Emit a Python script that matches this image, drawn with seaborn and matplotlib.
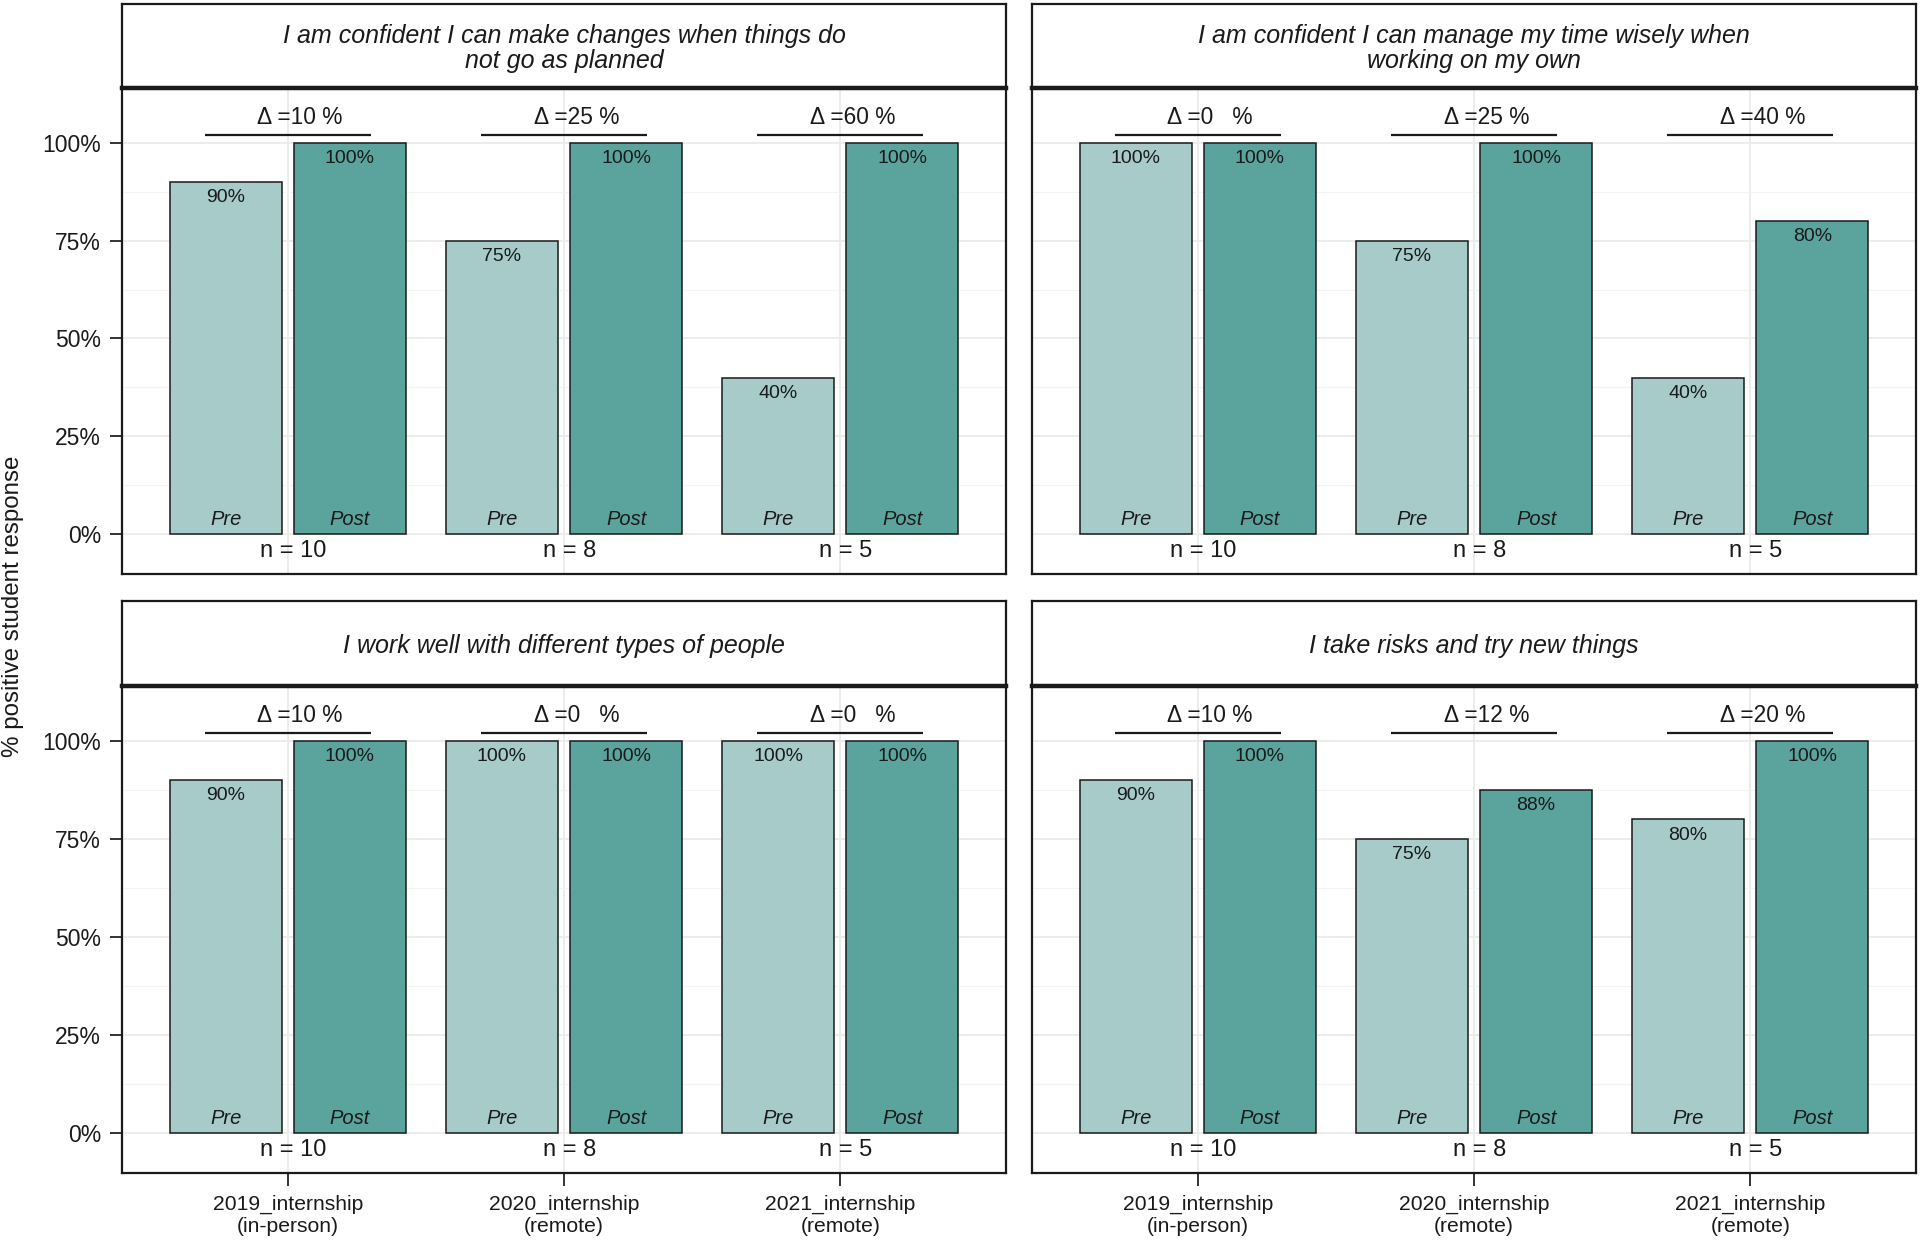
import numpy as np
import pandas as pd
import matplotlib
matplotlib.use("Agg")
import matplotlib.pyplot as plt
import seaborn as sns

# ---------------- data ----------------
categories = ["2019_internship\n(in-person)", "2020_internship\n(remote)", "2021_internship\n(remote)"]
n_labels = ["n = 10", "n = 8", "n = 5"]
titles = [
    "I am confident I can make changes when things do\nnot go as planned",
    "I am confident I can manage my time wisely when\nworking on my own",
    "I work well with different types of people",
    "I take risks and try new things",
]
pre_1 = [90, 75, 40]
post_1 = [100, 100, 100]
pre_2 = [100, 75, 40]
post_2 = [100, 100, 80]
pre_3 = [90, 100, 100]
post_3 = [100, 100, 100]
pre_4 = [90, 75, 80]
post_4 = [100, 87.5, 100]
phases = ["Pre", "Post"]

pre_all = [pre_1, pre_2, pre_3, pre_4]
post_all = [post_1, post_2, post_3, post_4]

PRE_COL = "#a6cbc8"
POST_COL = "#5ba39d"
FONT = ["Liberation Sans", "DejaVu Sans"]

sns.set_theme(style="white")
plt.rcParams["font.family"] = FONT

W, H = 1920, 1241
fig = plt.figure(figsize=(W / 100, H / 100), dpi=100)

# layout in pixels: (left, top, right, bottom)
col_x = [(122, 1006), (1032, 1916)]
row_panel = [(88, 574), (686, 1173)]
row_strip = [(4, 88), (601, 686)]


def fbox(x0, y0, x1, y1):
    return [x0 / W, 1 - y1 / H, (x1 - x0) / W, (y1 - y0) / H]


def fmt_delta(d):
    s = str(int(round(d)))
    return "\u0394 =" + s + " " * (2 * (2 - len(s))) + " %"


for idx in range(4):
    r, c = divmod(idx, 2)
    x0, x1 = col_x[c]
    py0, py1 = row_panel[r]
    sy0, sy1 = row_strip[r]

    pre = pre_all[idx]
    post = post_all[idx]
    df = pd.DataFrame({
        "cat": categories * 2,
        "phase": ["Pre"] * 3 + ["Post"] * 3,
        "value": list(pre) + list(post),
    })

    ax = fig.add_axes(fbox(x0, py0, x1, py1))
    ax.set_axisbelow(True)
    sns.barplot(data=df, x="cat", y="value", hue="phase", hue_order=phases,
                order=categories, palette={"Pre": PRE_COL, "Post": POST_COL},
                width=0.9, gap=0.1, saturation=1, edgecolor="#1a1a1a",
                linewidth=1.1, errorbar=None, legend=False, ax=ax)

    ax.set_ylim(-10.2, 114)
    ax.set_xlim(-0.6, 2.6)
    ax.set_yticks([0, 25, 50, 75, 100])
    ax.set_yticks([12.5, 37.5, 62.5, 87.5], minor=True)
    ax.grid(True, which="major", axis="y", color="#ebebeb", lw=1.3)
    ax.grid(True, which="minor", axis="y", color="#f3f3f3", lw=0.8)
    ax.grid(True, which="major", axis="x", color="#ebebeb", lw=1.3)
    ax.set_xlabel("")
    ax.set_ylabel("")

    for sp in ax.spines.values():
        sp.set_visible(True)
        sp.set_color("#1a1a1a")
        sp.set_linewidth(1.6)

    if c == 0:
        ax.set_yticklabels(["0%", "25%", "50%", "75%", "100%"])
        ax.tick_params(axis="y", which="major", length=9, width=1.4, color="#333333",
                       labelsize=16.5, labelcolor="#1a1a1a", pad=6, left=True)
    else:
        ax.tick_params(axis="y", which="major", length=0, labelleft=False)
    ax.tick_params(axis="y", which="minor", length=0)
    if r == 1:
        ax.set_xticks(range(3))
        ax.set_xticklabels(categories, linespacing=1.15)
        ax.tick_params(axis="x", length=9, width=1.4, color="#333333",
                       labelsize=15.2, labelcolor="#1a1a1a", pad=7, bottom=True)
    else:
        ax.tick_params(axis="x", length=0, labelbottom=False)

    for i in range(3):
        ax.text(i - 0.225, pre[i] - 4, f"{int(round(pre[i]))}%", ha="center", va="center",
                fontsize=14, color="#1a1a1a")
        ax.text(i + 0.225, post[i] - 4, f"{int(round(post[i]))}%", ha="center", va="center",
                fontsize=14, color="#1a1a1a")
        ax.text(i - 0.225, 3.7, "Pre", ha="center", va="center", fontsize=14.5,
                style="italic", color="#1a1a1a")
        ax.text(i + 0.225, 3.7, "Post", ha="center", va="center", fontsize=14.5,
                style="italic", color="#1a1a1a")
        ax.text(i + 0.02, -4.3, n_labels[i], ha="center", va="center", fontsize=17,
                color="#1a1a1a")
        ax.plot([i - 0.3, i + 0.3], [102, 102], color="#1a1a1a", lw=1.6,
                solid_capstyle="butt")
        ax.text(i + 0.045, 106.4, fmt_delta(post[i] - pre[i]), ha="center", va="center",
                fontsize=16.4, color="#1a1a1a")

    sax = fig.add_axes(fbox(x0, sy0, x1, sy1))
    sax.set_xticks([])
    sax.set_yticks([])
    sax.set_facecolor("white")
    for name, sp in sax.spines.items():
        sp.set_color("#1a1a1a")
        sp.set_linewidth(3.2 if name == "bottom" else 1.6)
    sax.text(0.5, 0.47, titles[idx], ha="center", va="center", fontsize=18,
             style="italic", color="#1a1a1a", linespacing=1.08,
             transform=sax.transAxes)

fig.text(13 / W, 1 - 606 / H, "% positive student response", rotation=90,
         ha="center", va="center", fontsize=17.4, color="#1a1a1a")

fig.savefig("out.png", dpi=100, facecolor="white")
